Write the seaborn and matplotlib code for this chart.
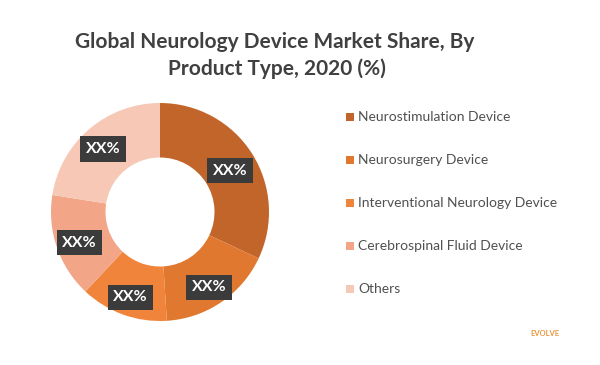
import matplotlib
matplotlib.use("Agg")
import matplotlib.pyplot as plt
import seaborn as sns
import numpy as np

sns.set_theme(style="white")
plt.rcParams['font.family'] = ['Lato', 'DejaVu Sans']

categories = ["Neurostimulation Device", "Neurosurgery Device",
              "Interventional Neurology Device", "Cerebrospinal Fluid Device", "Others"]
values = [32, 17, 13, 15.5, 22.5]
labels = ["XX%", "XX%", "XX%", "XX%", "XX%"]
colors = ["#C2652A", "#E0782F", "#F0843A", "#F2A587", "#F6C8B5"]

fig = plt.figure(figsize=(6, 3.65), dpi=100)
fig.patch.set_facecolor("white")
# donut axes: center (160,212), radius ~109 px
cx, cy, r = 160, 212, 109
ax = fig.add_axes([(cx - r) / 600, 1 - (cy + r) / 365, 2 * r / 600, 2 * r / 365])
wedges, _ = ax.pie(values, colors=colors, startangle=90, counterclock=False,
                   radius=1.0, wedgeprops=dict(width=0.5, edgecolor="none"))
ax.set_xlim(-1, 1)
ax.set_ylim(-1, 1)
ax.set_aspect("auto")

# labels placement
radii = [0.76, 0.8, 0.8, 0.78, 0.8]
for w, lab, rr in zip(wedges, labels, radii):
    ang = np.deg2rad((w.theta1 + w.theta2) / 2)
    ax.text(rr * np.cos(ang), rr * np.sin(ang) - 0.03, lab, ha="center", va="center",
            color="white", fontsize=11.5, fontweight="bold",
            bbox=dict(boxstyle="square,pad=0.35", fc="#3B3B3B", ec="none"))

fig.text(275 / 600, 1 - 48 / 365, "Global Neurology Device Market Share, By",
         ha="center", va="baseline", fontsize=15, fontweight="bold", color="#404040")
fig.text(277 / 600, 1 - 75 / 365, "Product Type, 2020 (%)",
         ha="center", va="baseline", fontsize=15, fontweight="bold", color="#404040")

# legend
ys = [117, 160, 203, 246, 289]
for c, name, y in zip(colors, categories, ys):
    fig.patches.append(plt.Rectangle((346 / 600, 1 - (y + 4) / 365), 8 / 600, 8 / 365,
                                     transform=fig.transFigure, fc=c, ec="none"))
    fig.text(358 / 600, 1 - y / 365, name, ha="left", va="center",
             fontsize=10, color="#505050")

fig.text(545 / 600, 1 - 333 / 365, "EVOLVE", ha="center", va="center",
         fontsize=5.5, fontweight="bold", color="#E8963C")

fig.savefig("out.png", dpi=100, facecolor="white")
